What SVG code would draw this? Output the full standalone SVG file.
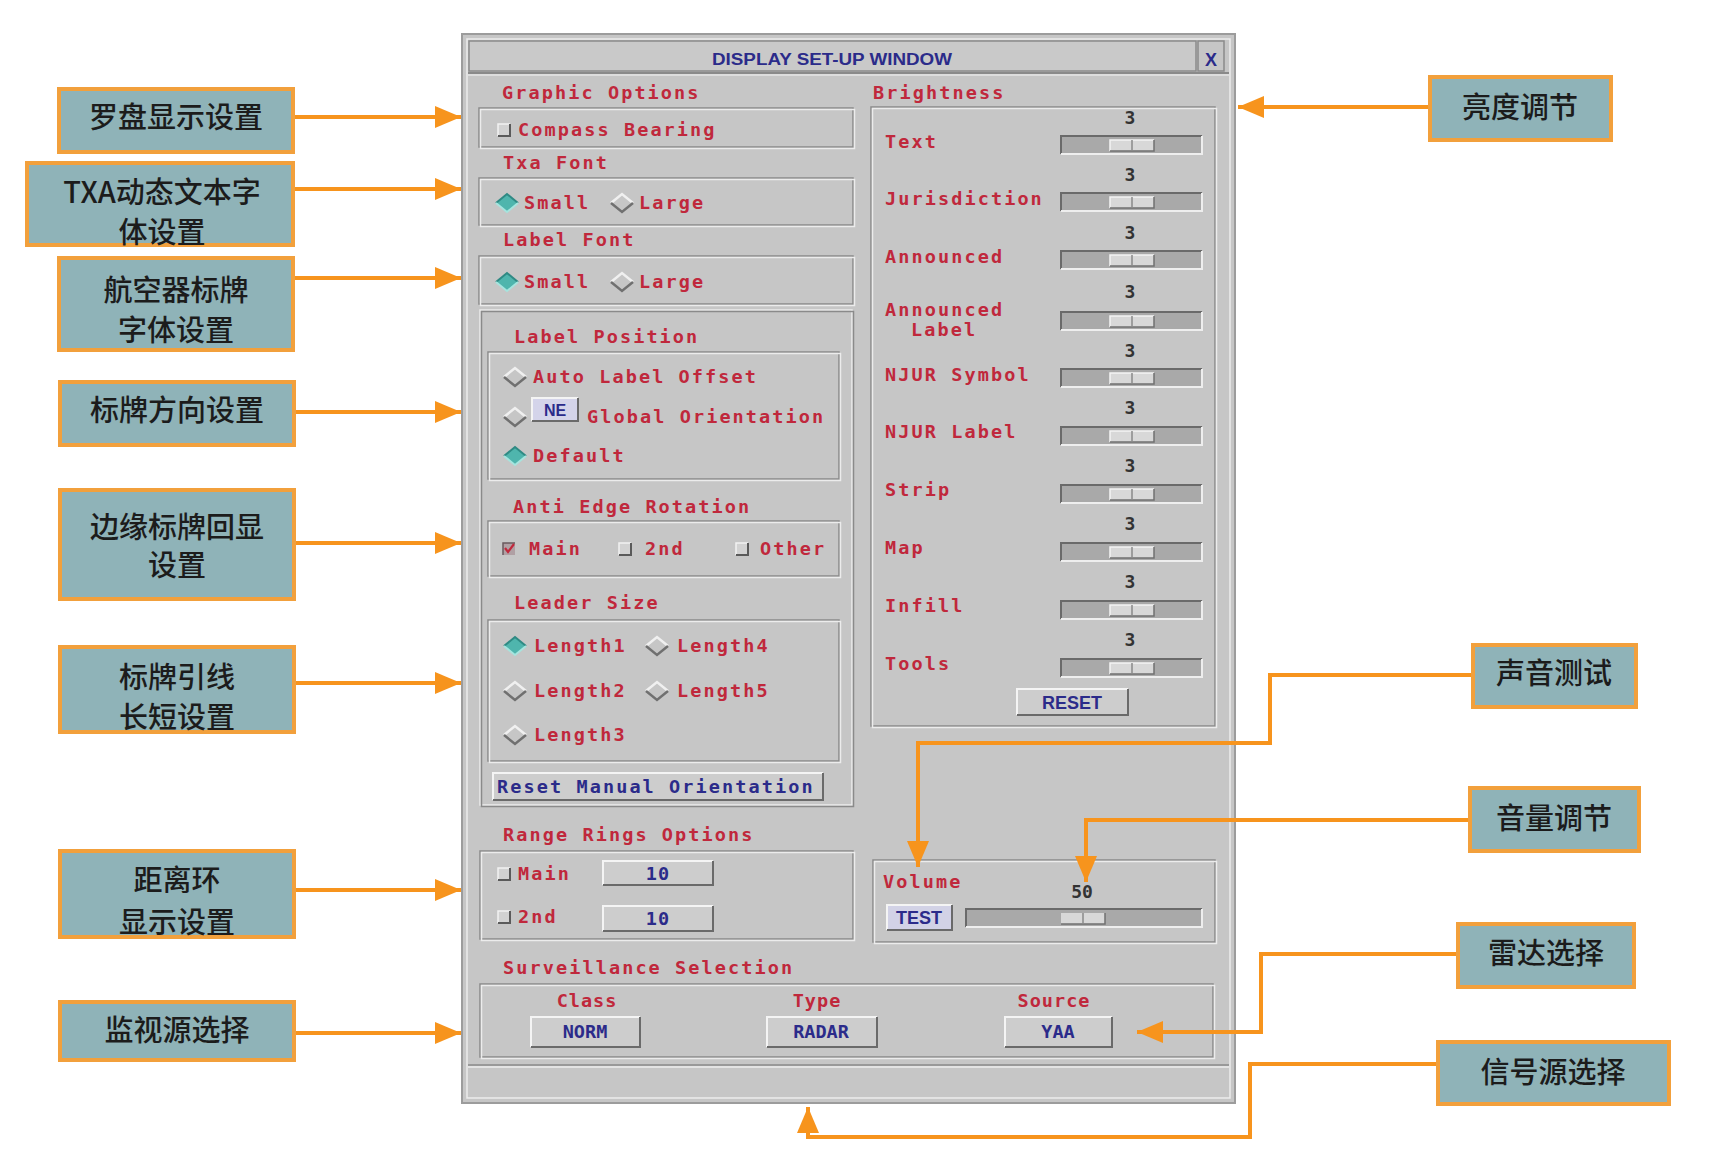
<svg xmlns="http://www.w3.org/2000/svg" xmlns:xlink="http://www.w3.org/1999/xlink" width="1720" height="1162" viewBox="0 0 1720 1162">
<style>
.lbl{fill:#8fb3b8;stroke:#f2a03c;stroke-width:4}
.cn{font-family:"Noto Sans CJK SC","Noto Sans",sans-serif;font-size:29px;font-weight:500;fill:#1c1c1c;text-anchor:middle}
.conn{fill:none;stroke:#f7941d;stroke-width:4}
.ui{font-family:"DejaVu Sans Mono","Liberation Mono",monospace;font-size:18.5px;font-weight:bold;letter-spacing:2.1px;fill:#c0283c}
.bl{fill:#2b2b8a}
.mid{text-anchor:middle}
.num{font-family:"DejaVu Sans Mono","Liberation Mono",monospace;font-size:18px;font-weight:bold;fill:#333;text-anchor:middle}
.sans{font-family:"Liberation Sans",Arial,sans-serif;font-weight:bold;fill:#2b2b8a;text-anchor:middle}
.e1{fill:none;stroke:#8a8a8a;stroke-width:1.5}
.e2{fill:none;stroke:#ececec;stroke-width:1.5}
.btn{fill:#cdcdcd}
.hl{fill:none;stroke:#f4f4f4;stroke-width:2}
.sh{fill:none;stroke:#6a6a6a;stroke-width:2}
</style>
<defs>
<marker id="ah" viewBox="0 0 26 22" refX="26" refY="11" markerWidth="26" markerHeight="22" markerUnits="userSpaceOnUse" orient="auto">
<path d="M0,0 L26,11 L0,22 Z" fill="#f7941d"/>
</marker>
<g id="rOff">
<polyline points="-11,0 0,-9 11,0" fill="none" stroke="#f0f0f0" stroke-width="2.5"/>
<polyline points="-11,0 0,9 11,0" fill="none" stroke="#707070" stroke-width="2.5"/>
</g>
<g id="rOn">
<polygon points="-11,0 0,-9 11,0 0,9" fill="#4fb5ad"/>
<polyline points="-11,0 0,-9 11,0" fill="none" stroke="#2f8a84" stroke-width="2"/>
<polyline points="-11,0 0,9 11,0" fill="none" stroke="#a6e4de" stroke-width="2"/>
</g>
<g id="cb">
<rect x="-6" y="-6" width="12" height="12" fill="#d2d2d2"/>
<polyline points="-6,6 -6,-6 6,-6" fill="none" stroke="#f2f2f2" stroke-width="1.5"/>
<polyline points="-6,6 6,6 6,-6" fill="none" stroke="#5a5a5a" stroke-width="2"/>
</g>
<g id="cbOn">
<rect x="-6" y="-6" width="12" height="12" fill="#b0a0a4"/>
<polyline points="-6,6 -6,-6 6,-6" fill="none" stroke="#6a5a5e" stroke-width="1.5"/>
<polyline points="-4,-1 -1,3 5,-5" fill="none" stroke="#c0283c" stroke-width="2.2"/>
</g>
<g id="sl">
<rect x="0" y="0" width="141" height="18" fill="#a9a9a9"/>
<polyline points="0,18 0,0 141,0" fill="none" stroke="#6a6a6a" stroke-width="2"/>
<polyline points="0,18 141,18 141,0" fill="none" stroke="#eeeeee" stroke-width="2"/>
<rect x="49" y="4" width="44" height="11" fill="#d8d8d8"/>
<polyline points="49,15 49,4 93,4" fill="none" stroke="#f4f4f4" stroke-width="1.5"/>
<polyline points="49,15 93,15 93,4" fill="none" stroke="#707070" stroke-width="1.5"/>
<line x1="71" y1="4" x2="71" y2="15" stroke="#8a8a8a" stroke-width="1.5"/>
</g>
</defs>

<rect width="1720" height="1162" fill="#ffffff"/>

<!-- window -->
<g id="window">
<rect x="462" y="34" width="773" height="1069" fill="#c6c6c6" stroke="#9c9c9c" stroke-width="2"/>
<rect x="467" y="39" width="763" height="1059" class="e2"/>
<rect x="469" y="41" width="727" height="30" fill="#c9c9c9"/>
<rect x="469" y="41" width="727" height="30" class="e1"/>
<rect x="1198" y="41" width="26" height="30" class="e1"/>
<line x1="468" y1="73" x2="1229" y2="73" stroke="#8a8a8a" stroke-width="2"/>
<line x1="468" y1="75" x2="1229" y2="75" stroke="#e4e4e4" stroke-width="1.5"/>
<text x="712" y="65" class="sans" style="text-anchor:start;font-size:16px" textLength="240" lengthAdjust="spacingAndGlyphs" fill="#2b2b7a">DISPLAY SET-UP WINDOW</text>
<text x="1211" y="66" class="sans" style="font-size:18px" fill="#2b2b7a">X</text>
<line x1="468" y1="1065" x2="1229" y2="1065" stroke="#8a8a8a" stroke-width="1.5"/>
<line x1="468" y1="1067" x2="1229" y2="1067" stroke="#ececec" stroke-width="1.5"/>
</g>

<!-- Graphic options -->
<g id="graphic-options">
<text x="502" y="99" class="ui">Graphic Options</text>
<rect x="479" y="108" width="374" height="39" class="e1"/>
<rect x="480.5" y="109.5" width="374" height="39" class="e2"/>
<use xlink:href="#cb" x="504" y="130"/>
<text x="518" y="136" class="ui">Compass Bearing</text>
</g>

<g id="txa-font">
<text x="503" y="169" class="ui">Txa Font</text>
<rect x="479" y="178" width="374" height="47" class="e1"/>
<rect x="480.5" y="179.5" width="374" height="47" class="e2"/>
<use xlink:href="#rOn" x="507" y="203"/>
<text x="524" y="209" class="ui">Small</text>
<use xlink:href="#rOff" x="622" y="203"/>
<text x="639" y="209" class="ui">Large</text>
</g>

<g id="label-font">
<text x="503" y="246" class="ui">Label Font</text>
<rect x="479" y="256" width="374" height="48" class="e1"/>
<rect x="480.5" y="257.5" width="374" height="48" class="e2"/>
<use xlink:href="#rOn" x="507" y="282"/>
<text x="524" y="288" class="ui">Small</text>
<use xlink:href="#rOff" x="622" y="282"/>
<text x="639" y="288" class="ui">Large</text>
</g>

<g id="label-position">
<rect x="480" y="310" width="372" height="495" class="e2"/>
<rect x="481.5" y="311.5" width="372" height="495" class="e1"/>
<text x="514" y="343" class="ui">Label Position</text>
<rect x="488" y="352" width="351" height="127" class="e1"/>
<rect x="489.5" y="353.5" width="351" height="127" class="e2"/>
<use xlink:href="#rOff" x="515" y="377"/>
<text x="533" y="383" class="ui">Auto Label Offset</text>
<use xlink:href="#rOff" x="515" y="417"/>
<rect x="532" y="398" width="46" height="23" fill="#d4d4ea"/>
<polyline points="532,421 532,398 578,398" class="hl"/>
<polyline points="532,421 578,421 578,398" class="sh"/>
<text x="555" y="416" class="sans" style="font-size:16px">NE</text>
<text x="587" y="423" class="ui">Global Orientation</text>
<use xlink:href="#rOn" x="515" y="456"/>
<text x="533" y="462" class="ui">Default</text>

<text x="513" y="513" class="ui">Anti Edge Rotation</text>
<rect x="488" y="521" width="351" height="55" class="e1"/>
<rect x="489.5" y="522.5" width="351" height="55" class="e2"/>
<use xlink:href="#cbOn" x="509" y="549"/>
<text x="529" y="555" class="ui">Main</text>
<use xlink:href="#cb" x="625" y="549"/>
<text x="645" y="555" class="ui">2nd</text>
<use xlink:href="#cb" x="742" y="549"/>
<text x="760" y="555" class="ui">Other</text>

<text x="514" y="609" class="ui">Leader Size</text>
<rect x="488" y="620" width="351" height="141" class="e1"/>
<rect x="489.5" y="621.5" width="351" height="141" class="e2"/>
<use xlink:href="#rOn" x="515" y="646"/>
<text x="534" y="652" class="ui">Length1</text>
<use xlink:href="#rOff" x="657" y="646"/>
<text x="677" y="652" class="ui">Length4</text>
<use xlink:href="#rOff" x="515" y="691"/>
<text x="534" y="697" class="ui">Length2</text>
<use xlink:href="#rOff" x="657" y="691"/>
<text x="677" y="697" class="ui">Length5</text>
<use xlink:href="#rOff" x="515" y="735"/>
<text x="534" y="741" class="ui">Length3</text>

<rect x="493" y="773" width="330" height="27" class="btn" fill="#d0d0e0"/>
<polyline points="493,800 493,773 823,773" class="hl"/>
<polyline points="493,800 823,800 823,773" class="sh"/>
<text x="497" y="793" class="ui bl">Reset Manual Orientation</text>
</g>

<g id="range-rings">
<text x="503" y="841" class="ui">Range Rings Options</text>
<rect x="480" y="851" width="373" height="88" class="e1"/>
<rect x="481.5" y="852.5" width="373" height="88" class="e2"/>
<use xlink:href="#cb" x="504" y="874"/>
<text x="518" y="880" class="ui">Main</text>
<rect x="603" y="861" width="110" height="24" class="btn"/>
<polyline points="603,885 603,861 713,861" class="hl"/>
<polyline points="603,885 713,885 713,861" class="sh"/>
<text x="658" y="880" class="ui bl mid" style="letter-spacing:1px">10</text>
<use xlink:href="#cb" x="504" y="917"/>
<text x="518" y="923" class="ui">2nd</text>
<rect x="603" y="906" width="110" height="25" class="btn"/>
<polyline points="603,931 603,906 713,906" class="hl"/>
<polyline points="603,931 713,931 713,906" class="sh"/>
<text x="658" y="925" class="ui bl mid" style="letter-spacing:1px">10</text>
</g>

<g id="surveillance">
<text x="503" y="974" class="ui">Surveillance Selection</text>
<rect x="480" y="984" width="733" height="73" class="e1"/>
<rect x="481.5" y="985.5" width="733" height="73" class="e2"/>
<text x="587" y="1007" class="ui mid" style="letter-spacing:1px">Class</text>
<rect x="531" y="1017" width="109" height="30" class="btn"/>
<polyline points="531,1047 531,1017 640,1017" class="hl"/>
<polyline points="531,1047 640,1047 640,1017" class="sh"/>
<text x="585" y="1038" class="ui bl mid" style="letter-spacing:0px">NORM</text>
<text x="817" y="1007" class="ui mid" style="letter-spacing:1px">Type</text>
<rect x="767" y="1017" width="110" height="30" class="btn"/>
<polyline points="767,1047 767,1017 877,1017" class="hl"/>
<polyline points="767,1047 877,1047 877,1017" class="sh"/>
<text x="821" y="1038" class="ui bl mid" style="letter-spacing:0px">RADAR</text>
<text x="1054" y="1007" class="ui mid" style="letter-spacing:1px">Source</text>
<rect x="1005" y="1017" width="107" height="30" class="btn"/>
<polyline points="1005,1047 1005,1017 1112,1017" class="hl"/>
<polyline points="1005,1047 1112,1047 1112,1017" class="sh"/>
<text x="1058" y="1038" class="ui bl mid" style="letter-spacing:0px">YAA</text>
</g>

<g id="brightness">
<text x="873" y="99" class="ui">Brightness</text>
<rect x="871" y="107" width="344" height="619" class="e1"/>
<rect x="872.5" y="108.5" width="344" height="619" class="e2"/>
<text x="885" y="148" class="ui">Text</text>
<text x="1130" y="124" class="num">3</text>
<use xlink:href="#sl" x="1061" y="136"/>
<text x="885" y="205" class="ui">Jurisdiction</text>
<text x="1130" y="181" class="num">3</text>
<use xlink:href="#sl" x="1061" y="193"/>
<text x="885" y="263" class="ui">Announced</text>
<text x="1130" y="239" class="num">3</text>
<use xlink:href="#sl" x="1061" y="251"/>
<text x="885" y="316" class="ui">Announced</text>
<text x="911" y="336" class="ui">Label</text>
<text x="1130" y="298" class="num">3</text>
<use xlink:href="#sl" x="1061" y="312"/>
<text x="885" y="381" class="ui">NJUR Symbol</text>
<text x="1130" y="357" class="num">3</text>
<use xlink:href="#sl" x="1061" y="369"/>
<text x="885" y="438" class="ui">NJUR Label</text>
<text x="1130" y="414" class="num">3</text>
<use xlink:href="#sl" x="1061" y="427"/>
<text x="885" y="496" class="ui">Strip</text>
<text x="1130" y="472" class="num">3</text>
<use xlink:href="#sl" x="1061" y="485"/>
<text x="885" y="554" class="ui">Map</text>
<text x="1130" y="530" class="num">3</text>
<use xlink:href="#sl" x="1061" y="543"/>
<text x="885" y="612" class="ui">Infill</text>
<text x="1130" y="588" class="num">3</text>
<use xlink:href="#sl" x="1061" y="601"/>
<text x="885" y="670" class="ui">Tools</text>
<text x="1130" y="646" class="num">3</text>
<use xlink:href="#sl" x="1061" y="659"/>
<rect x="1017" y="689" width="111" height="26" class="btn"/>
<polyline points="1017,715 1017,689 1128,689" class="hl"/>
<polyline points="1017,715 1128,715 1128,689" class="sh"/>
<text x="1072" y="709" class="sans" style="font-size:18px">RESET</text>
</g>

<g id="volume">
<rect x="873" y="860" width="342" height="82" class="e1"/>
<rect x="874.5" y="861.5" width="342" height="82" class="e2"/>
<text x="883" y="888" class="ui">Volume</text>
<text x="1082" y="898" class="num">50</text>
<rect x="887" y="905" width="65" height="25" fill="#d2d2e6"/>
<polyline points="887,930 887,905 952,905" class="hl"/>
<polyline points="887,930 952,930 952,905" class="sh"/>
<text x="919" y="924" class="sans" style="font-size:18px">TEST</text>
<rect x="966" y="909" width="236" height="18" fill="#a9a9a9"/>
<polyline points="966,927 966,909 1202,909" fill="none" stroke="#6a6a6a" stroke-width="2"/>
<polyline points="966,927 1202,927 1202,909" fill="none" stroke="#eeeeee" stroke-width="2"/>
<rect x="1061" y="913" width="44" height="11" fill="#d8d8d8"/>
<polyline points="1061,924 1105,924 1105,913" fill="none" stroke="#707070" stroke-width="1.5"/>
<line x1="1083" y1="913" x2="1083" y2="924" stroke="#8a8a8a" stroke-width="1.5"/>
</g>

<!-- label nodes left -->
<g id="n-compass"><rect x="59" y="89" width="234" height="63" class="lbl"/><text x="176" y="128" class="cn">罗盘显示设置</text></g>
<g id="n-txa"><rect x="27" y="163" width="266" height="82" class="lbl"/><text x="162" y="203" class="cn">TXA动态文本字</text><text x="162" y="243" class="cn">体设置</text></g>
<g id="n-labelfont"><rect x="59" y="258" width="234" height="92" class="lbl"/><text x="176" y="301" class="cn">航空器标牌</text><text x="176" y="341" class="cn">字体设置</text></g>
<g id="n-orient"><rect x="60" y="382" width="234" height="63" class="lbl"/><text x="177" y="421" class="cn">标牌方向设置</text></g>
<g id="n-edge"><rect x="60" y="490" width="234" height="109" class="lbl"/><text x="177" y="538" class="cn">边缘标牌回显</text><text x="177" y="576" class="cn">设置</text></g>
<g id="n-leader"><rect x="60" y="647" width="234" height="85" class="lbl"/><text x="177" y="688" class="cn">标牌引线</text><text x="177" y="728" class="cn">长短设置</text></g>
<g id="n-range"><rect x="60" y="851" width="234" height="86" class="lbl"/><text x="177" y="891" class="cn">距离环</text><text x="177" y="933" class="cn">显示设置</text></g>
<g id="n-surv"><rect x="60" y="1002" width="234" height="58" class="lbl"/><text x="177" y="1041" class="cn">监视源选择</text></g>

<!-- label nodes right -->
<g id="n-bright"><rect x="1430" y="77" width="181" height="63" class="lbl"/><text x="1520" y="118" class="cn">亮度调节</text></g>
<g id="n-soundtest"><rect x="1473" y="645" width="163" height="62" class="lbl"/><text x="1554" y="684" class="cn">声音测试</text></g>
<g id="n-volume"><rect x="1470" y="788" width="169" height="63" class="lbl"/><text x="1554" y="829" class="cn">音量调节</text></g>
<g id="n-radar"><rect x="1458" y="924" width="176" height="63" class="lbl"/><text x="1546" y="964" class="cn">雷达选择</text></g>
<g id="n-signal"><rect x="1438" y="1042" width="231" height="62" class="lbl"/><text x="1553" y="1083" class="cn">信号源选择</text></g>

<!-- connectors -->
<g id="connectors">
<path d="M295,117 H461" class="conn" marker-end="url(#ah)"/>
<path d="M295,189 H461" class="conn" marker-end="url(#ah)"/>
<path d="M295,278 H461" class="conn" marker-end="url(#ah)"/>
<path d="M296,412 H461" class="conn" marker-end="url(#ah)"/>
<path d="M296,543 H461" class="conn" marker-end="url(#ah)"/>
<path d="M296,683 H461" class="conn" marker-end="url(#ah)"/>
<path d="M296,890 H461" class="conn" marker-end="url(#ah)"/>
<path d="M296,1033 H461" class="conn" marker-end="url(#ah)"/>
<path d="M1428,107 H1238" class="conn" marker-end="url(#ah)"/>
<path d="M1471,675 H1270 V743 H918 V867" class="conn" marker-end="url(#ah)"/>
<path d="M1468,820 H1086 V882" class="conn" marker-end="url(#ah)"/>
<path d="M1456,954 H1261 V1032 H1137" class="conn" marker-end="url(#ah)"/>
<path d="M1436,1064 H1250 V1137 H808 V1107" class="conn" marker-end="url(#ah)"/>
</g>
</svg>
